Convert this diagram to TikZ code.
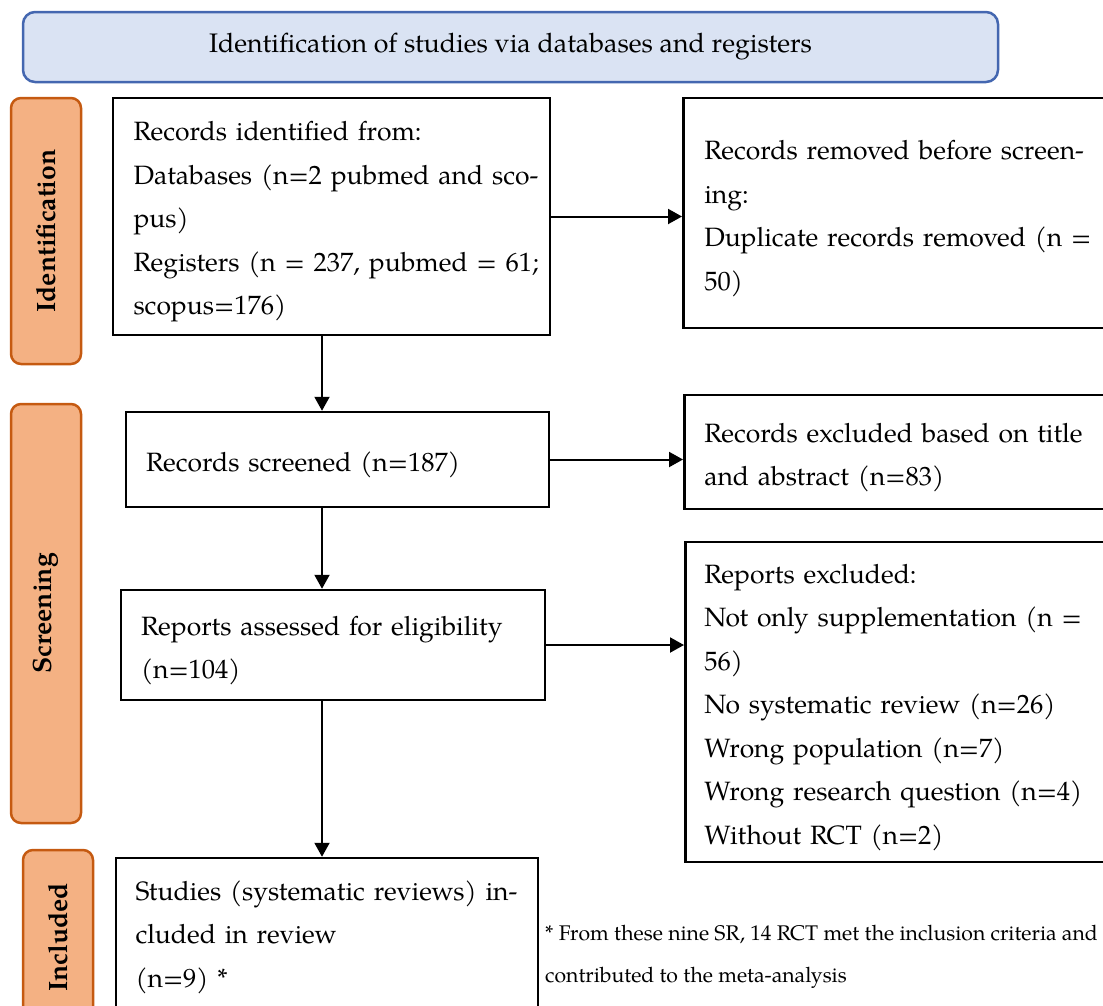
\documentclass[tikz,border=0pt]{standalone}
\usepackage{fontspec}
\setmainfont{texgyrepagella}[Extension=.otf, UprightFont=*-regular, BoldFont=*-bold, ItalicFont=*-italic, BoldItalicFont=*-bolditalic]
\usetikzlibrary{arrows.meta}
\definecolor{bannerfill}{HTML}{DAE3F3}
\definecolor{bannerline}{HTML}{4467B0}
\definecolor{phasefill}{HTML}{F4B183}
\definecolor{phaseline}{HTML}{C55A11}
\newcommand\jline[2]{\makebox[#1pt][s]{#2}}
\newcommand\toplift{\rule{0pt}{30pt}}
\begin{document}
\begin{tikzpicture}[x=1pt,y=-1pt,
  flowbox/.style={draw=black, line width=2.5pt, rectangle, align=left, inner xsep=20pt, inner ysep=0pt, font=\fontsize{26.5}{43.5}\selectfont},
  phase/.style={draw=phaseline, fill=phasefill, line width=2.5pt, rounded corners=10pt, font=\fontsize{26.5}{30}\selectfont\bfseries, rotate=90, inner sep=0pt, minimum height=70pt},
  banner/.style={draw=bannerline, fill=bannerfill, line width=2.5pt, rounded corners=12pt, font=\fontsize{26.75}{30}\selectfont, minimum width=975pt, minimum height=70pt, inner sep=0pt},
  notetext/.style={align=left, inner sep=0pt, font=\fontsize{21.2}{42}\selectfont},
  link/.style={line width=2pt, -{Triangle[length=14pt,width=15pt]}}
]
\useasboundingbox (0,0) rectangle (1103,1005);
\clip (0,0) rectangle (1103,1005);

\node[banner] (banner) at (510.5,47) {Identification of studies via databases and registers};

\node[phase, minimum width=266pt] (pid) at (46,231) {Identification};
\node[phase, minimum width=419pt] (pscr) at (46,613.5) {Screening};
\node[phase, minimum width=175pt] (pinc) at (58,937.5) {Included};

\node[flowbox, minimum width=437pt, minimum height=237pt, text width=396pt] (ident) at (331.5,216.5) {%
\toplift Records identified from:\\
\jline{394}{Databases (n=2 pubmed and sco-}\\
pus)\\
\jline{394}{Registers (n = 237, pubmed = 61;}\\
scopus=176)};

\node[flowbox, anchor=west, minimum height=230pt, text width=420pt, inner xsep=21pt] (removed) at (682,213) {%
\toplift\jline{377}{Records removed before screen-}\\
ing:\\
\jline{381}{Duplicate records removed (n =}\\
50)};

\node[flowbox, minimum width=423pt, minimum height=95pt, text width=383pt] (screened) at (337.5,459.5) {\toplift Records screened (n=187)};

\node[flowbox, anchor=west, minimum height=114pt, text width=420pt] (excluded) at (683,452) {%
\toplift\jline{383}{Records excluded based on title}\\
and abstract (n=83)};

\node[flowbox, minimum width=424pt, minimum height=110pt, text width=384pt] (assessed) at (333,645) {%
\toplift Reports assessed for eligibility\\
(n=104)};

\node[flowbox, anchor=west, minimum height=320pt, text width=420pt, inner xsep=19pt] (reports) at (684,702) {%
\toplift Reports excluded:\\
\jline{393}{Not only supplementation (n =}\\
56)\\
No systematic review (n=26)\\
Wrong population (n=7)\\
Wrong research question (n=4)\\
Without RCT (n=2)};

\node[flowbox, minimum width=422pt, minimum height=158pt, text width=383pt, inner xsep=19.5pt] (included) at (327,937) {%
\jline{383}{Studies (systematic reviews) in-}\\
cluded in review\\
(n=9) *};

\node[notetext, anchor=west] (note) at (545,957) {* From these nine SR, 14 RCT met the inclusion criteria and\\contributed to the meta-analysis};

\coordinate (spine) at (322,0);
\draw[link] (spine |- ident.south) -- (spine |- screened.north);
\draw[link] (spine |- screened.south) -- (spine |- assessed.north);
\draw[link] (spine |- assessed.south) -- (spine |- included.north);
\draw[link] (ident.east) -- (ident.east -| removed.west);
\draw[link] (screened.east) -- (screened.east -| excluded.west);
\draw[link] (assessed.east) -- (assessed.east -| reports.west);
\end{tikzpicture}
\end{document}
